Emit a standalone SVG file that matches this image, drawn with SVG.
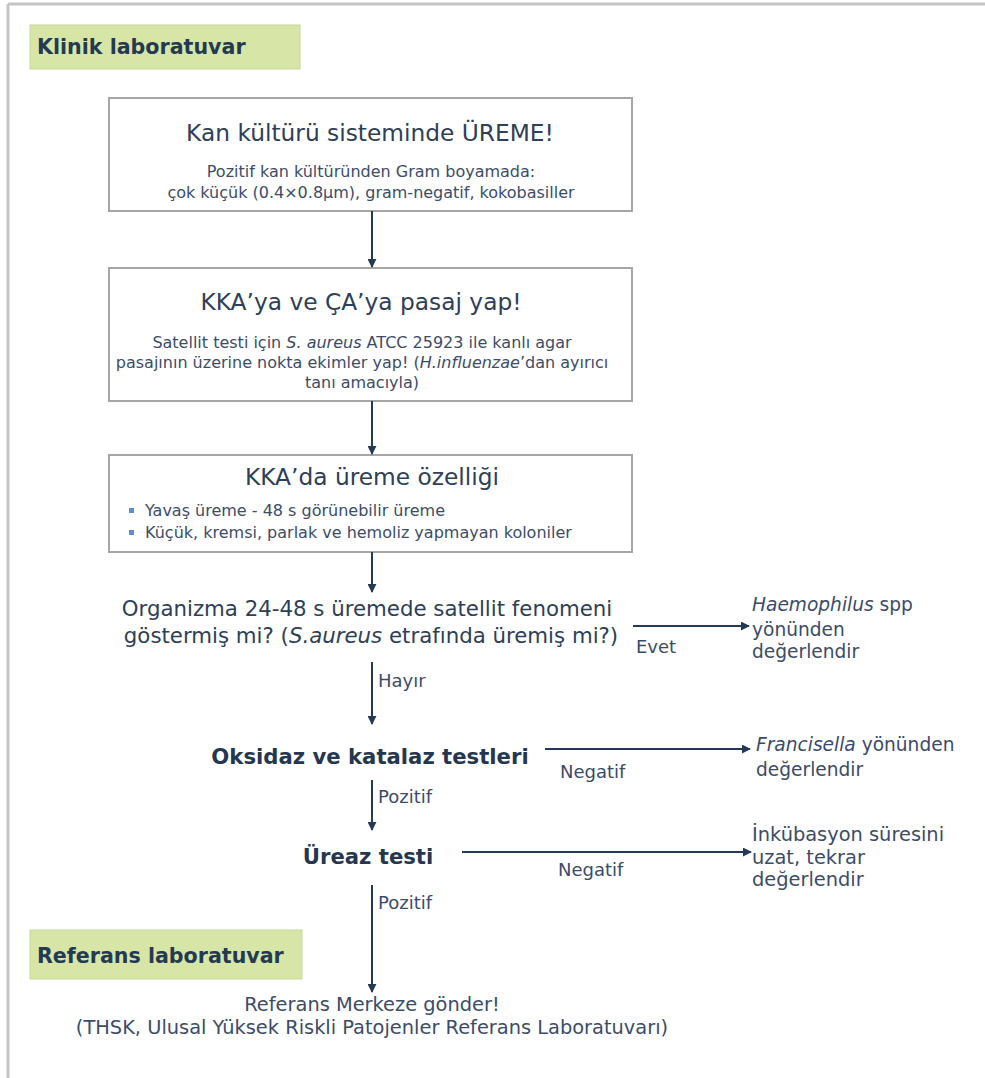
<svg xmlns="http://www.w3.org/2000/svg" width="985" height="1078" viewBox="0 0 985 1078">
<style>
text{font-family:"DejaVu Sans","Liberation Sans",sans-serif;fill:#2b3a55}
.box{fill:#ffffff;stroke:#a6a6a6;stroke-width:2}
.lab{fill:#d7e6a6;stroke:#c6d99a;stroke-width:1}
.labt{font-size:20.6px;font-weight:bold;fill:#243a52}
.t1{font-size:23.3px;fill:#2e4057}
.t2{font-size:16px;fill:#3c4c68}
.bul{font-size:16px;fill:#3c4c68}
.dot{fill:#5b8fd0}
.q{font-size:21.3px;fill:#2e4057}
.b{font-size:21.2px;font-weight:bold;fill:#253650}
.s{font-size:18.6px;fill:#3c4c68}
.lbl{font-size:18px;fill:#3c4c68}
.f{font-size:19.4px;fill:#3c4c68}
.c{stroke:#243858;stroke-width:2;fill:none;marker-end:url(#ah)}
</style>
<defs>
<marker id="ah" viewBox="0 0 10 10" refX="9" refY="5" markerWidth="4.5" markerHeight="4.5" orient="auto" markerUnits="strokeWidth">
<path d="M0,0 L10,5 L0,10 z" fill="#243858"/>
</marker>
</defs>
<rect x="0" y="0" width="985" height="1078" fill="#ffffff"/>
<g id="frame">
<line x1="8" y1="4" x2="985" y2="4" stroke="#c4c4c4" stroke-width="3"/>
<line x1="8" y1="4" x2="8" y2="1078" stroke="#c4c4c4" stroke-width="3"/>
</g>
<g id="lab-klinik">
<rect class="lab" x="30" y="25" width="270" height="44"/>
<text class="labt" x="37" y="54">Klinik laboratuvar</text>
</g>
<g id="box-ureme">
<rect class="box" x="109" y="98" width="523" height="113"/>
<text class="t1" x="370" y="141" text-anchor="middle">Kan kültürü sisteminde ÜREME!</text>
<text class="t2" x="371" y="177" text-anchor="middle">Pozitif kan kültüründen Gram boyamada:</text>
<text class="t2" x="371" y="198" text-anchor="middle">çok küçük (0.4×0.8µm), gram-negatif, kokobasiller</text>
</g>
<g id="box-pasaj">
<rect class="box" x="109" y="268" width="523" height="133"/>
<text class="t1" x="361" y="310" text-anchor="middle">KKA’ya ve ÇA’ya pasaj yap!</text>
<text class="t2" x="362" y="348" text-anchor="middle">Satellit testi için <tspan font-style="italic">S. aureus</tspan> ATCC 25923 ile kanlı agar</text>
<text class="t2" x="362" y="368" text-anchor="middle">pasajının üzerine nokta ekimler yap! (<tspan font-style="italic">H.influenzae</tspan>’dan ayırıcı</text>
<text class="t2" x="362" y="388" text-anchor="middle">tanı amacıyla)</text>
</g>
<g id="box-kka">
<rect class="box" x="109" y="455" width="523" height="97"/>
<text class="t1" x="372" y="485" text-anchor="middle">KKA’da üreme özelliği</text>
<rect class="dot" x="129" y="508" width="5" height="5"/>
<text class="bul" x="145" y="516">Yavaş üreme - 48 s görünebilir üreme</text>
<rect class="dot" x="129" y="530" width="5" height="5"/>
<text class="bul" x="145" y="538">Küçük, kremsi, parlak ve hemoliz yapmayan koloniler</text>
</g>
<g id="q-satellit">
<text class="q" x="367" y="616" text-anchor="middle">Organizma 24-48 s üremede satellit fenomeni</text>
<text class="q" x="371" y="643" text-anchor="middle">göstermiş mi? (<tspan font-style="italic">S.aureus</tspan> etrafında üremiş mi?)</text>
</g>
<g id="r-haemophilus">
<text class="s" x="752" y="611"><tspan font-style="italic">Haemophilus</tspan> spp</text>
<text class="s" x="752" y="636">yönünden</text>
<text class="s" x="752" y="658">değerlendir</text>
</g>
<g id="n-oksidaz">
<text class="b" x="370" y="764" text-anchor="middle">Oksidaz ve katalaz testleri</text>
</g>
<g id="r-francisella">
<text class="s" x="756" y="751"><tspan font-style="italic">Francisella</tspan> yönünden</text>
<text class="s" x="756" y="776">değerlendir</text>
</g>
<g id="n-ureaz">
<text class="b" x="368" y="864" text-anchor="middle">Üreaz testi</text>
</g>
<g id="r-inkubasyon">
<text class="f" x="752" y="841">İnkübasyon süresini</text>
<text class="f" x="752" y="864">uzat, tekrar</text>
<text class="f" x="752" y="886">değerlendir</text>
</g>
<g id="lab-referans">
<rect class="lab" x="30" y="930" width="272" height="49"/>
<text class="labt" x="37" y="963">Referans laboratuvar</text>
</g>
<g id="n-referans">
<text class="f" x="372" y="1011" text-anchor="middle">Referans Merkeze gönder!</text>
<text class="f" x="372" y="1034" text-anchor="middle">(THSK, Ulusal Yüksek Riskli Patojenler Referans Laboratuvarı)</text>
</g>
<g id="connectors">
<line class="c" x1="372" y1="211" x2="372" y2="267"/>
<line class="c" x1="372" y1="401" x2="372" y2="454"/>
<line class="c" x1="372" y1="552" x2="372" y2="592"/>
<line class="c" x1="633" y1="626" x2="749" y2="626"/>
<text class="lbl" x="636" y="653">Evet</text>
<line class="c" x1="372" y1="662" x2="372" y2="724"/>
<text class="lbl" x="378" y="687">Hayır</text>
<line class="c" x1="545" y1="749" x2="750" y2="749"/>
<text class="lbl" x="560" y="778">Negatif</text>
<line class="c" x1="372" y1="780" x2="372" y2="830"/>
<text class="lbl" x="378" y="803">Pozitif</text>
<line class="c" x1="462" y1="852" x2="751" y2="852"/>
<text class="lbl" x="558" y="876">Negatif</text>
<line class="c" x1="372" y1="885" x2="372" y2="992"/>
<text class="lbl" x="378" y="909">Pozitif</text>
</g>
</svg>
